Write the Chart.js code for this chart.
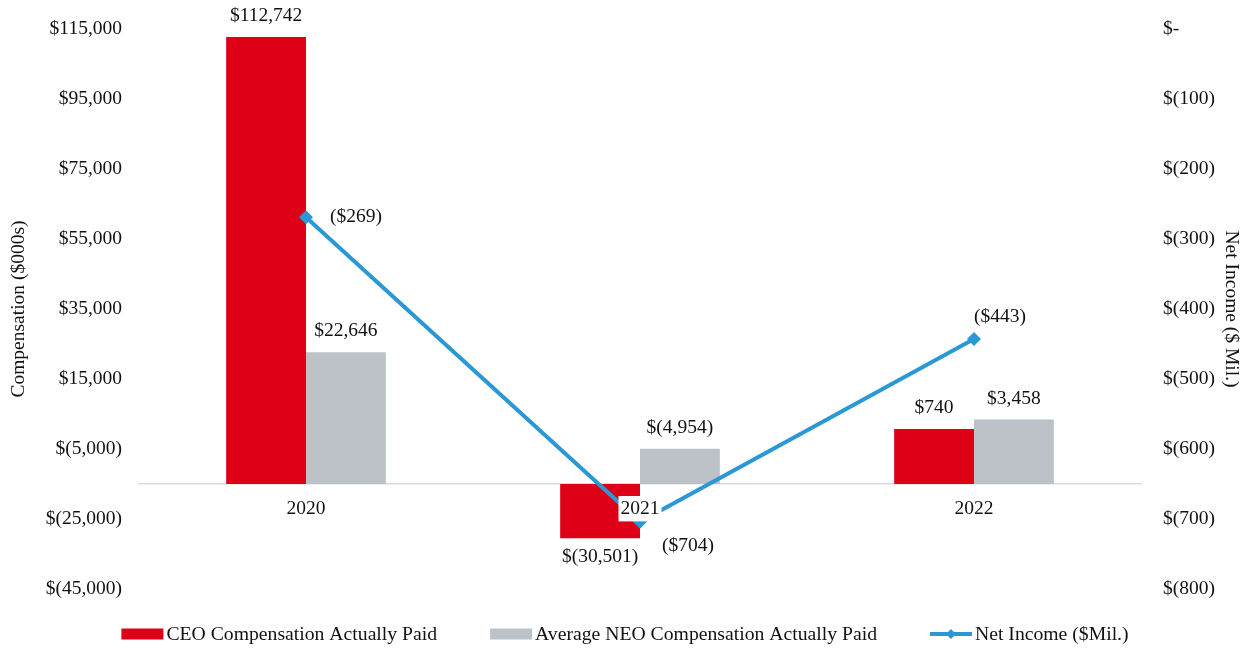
<!DOCTYPE html>
<html>
    <head>
        <title>Pay vs Performance</title>
        <meta charset="UTF-8" />
        <script src="https://cdn.jsdelivr.net/npm/chart.js"></script>
        <style>
            body { margin: 0; background: #fff; }
            #wrap { width: 1250px; height: 648px; position: relative; }
        </style>
    </head>
    <body>
        <div id="wrap"><canvas id="myChart"></canvas></div>
        <script>
            // データ
            const years = ['2020', '2021', '2022'];
            const ceoPaid = [112742, -30501, 740];
            const neoPaid = [22646, -4954, 3458];
            const netIncome = [-269, -704, -443];
            // 横軸が交差する値 (棒の基点)
            const barBase = -15000;

            const RED = '#DE0016';
            const GREY = '#BCC2C7';
            const BLUE = '#2B98D6';
            const FONT = "'Liberation Serif', 'Times New Roman', serif";

            function money(v) {
                const s = Math.abs(v).toLocaleString('en-US');
                return v < 0 ? '$(' + s + ')' : '$' + s;
            }
            function moneyMil(v) {
                if (v === 0) return '$-';
                return money(v);
            }

            // 折れ線ラベルの置き場所
            const lineLabelPos = [
                { dx: 24, dy: 0 },
                { dx: 22, dy: 24 },
                { dx: 0, dy: -22 }
            ];

            Chart.defaults.font.family = FONT;
            Chart.defaults.font.size = 19.5;
            Chart.defaults.color = '#111';

            const valueLabels = {
                id: 'valueLabels',
                afterDatasetsDraw(chart) {
                    const ctx = chart.ctx;
                    ctx.save();
                    ctx.font = '19.5px ' + FONT;
                    ctx.fillStyle = '#111';
                    chart.data.datasets.forEach((ds, di) => {
                        const meta = chart.getDatasetMeta(di);
                        meta.data.forEach((el, i) => {
                            const v = ds.data[i];
                            if (ds.type === 'line') {
                                const p = lineLabelPos[i];
                                ctx.textAlign = 'left';
                                ctx.textBaseline = 'middle';
                                ctx.fillText('($' + Math.abs(v) + ')', el.x + p.dx, el.y + p.dy);
                            } else {
                                ctx.textAlign = 'center';
                                ctx.textBaseline = 'middle';
                                const up = el.y < el.base;
                                ctx.fillText(money(v), el.x, up ? el.y - 21 : el.y + 19);
                            }
                        });
                    });
                    ctx.restore();
                }
            };

            // 凡例 (下部)
            const bottomLegend = {
                id: 'bottomLegend',
                afterDraw(chart) {
                    const ctx = chart.ctx;
                    const items = chart.data.datasets.map(ds => ({ text: ds.label, color: ds.borderColor, line: ds.type === 'line' }));
                    const markW = 42, markGap = 3, itemGap = 53;
                    ctx.save();
                    ctx.font = '19.7px ' + FONT;
                    let total = 0;
                    items.forEach((it, i) => {
                        it.w = ctx.measureText(it.text).width;
                        total += markW + markGap + it.w + (i ? itemGap : 0);
                    });
                    let x = (chart.width - total) / 2;
                    const y = 634;
                    items.forEach((it) => {
                        if (it.line) {
                            ctx.strokeStyle = it.color;
                            ctx.lineWidth = 4;
                            ctx.beginPath();
                            ctx.moveTo(x, y);
                            ctx.lineTo(x + markW, y);
                            ctx.stroke();
                            ctx.fillStyle = it.color;
                            ctx.beginPath();
                            ctx.moveTo(x + markW / 2, y - 5);
                            ctx.lineTo(x + markW / 2 + 5, y);
                            ctx.lineTo(x + markW / 2, y + 5);
                            ctx.lineTo(x + markW / 2 - 5, y);
                            ctx.closePath();
                            ctx.fill();
                        } else {
                            ctx.fillStyle = it.color;
                            ctx.fillRect(x, y - 5.5, markW, 11);
                        }
                        ctx.fillStyle = '#111';
                        ctx.textAlign = 'left';
                        ctx.textBaseline = 'middle';
                        ctx.fillText(it.text, x + markW + markGap, y + 1);
                        x += markW + markGap + it.w + itemGap;
                    });
                    ctx.restore();
                }
            };

            const ctx = document.getElementById('myChart').getContext('2d');
            const myChart = new Chart(ctx, {
                data: {
                    labels: years,
                    datasets: [{
                        type: 'bar',
                        label: 'CEO Compensation Actually Paid',
                        data: ceoPaid,
                        base: barBase,
                        backgroundColor: RED,
                        borderColor: RED,
                        yAxisID: 'y',
                        order: 1
                    }, {
                        type: 'bar',
                        label: 'Average NEO Compensation Actually Paid',
                        data: neoPaid,
                        base: barBase,
                        backgroundColor: GREY,
                        borderColor: GREY,
                        yAxisID: 'y',
                        order: 1
                    }, {
                        type: 'line',
                        label: 'Net Income ($Mil.)',
                        data: netIncome,
                        borderColor: BLUE,
                        backgroundColor: BLUE,
                        borderWidth: 4,
                        pointStyle: 'rectRot',
                        pointRadius: 7,
                        pointBorderWidth: 0,
                        tension: 0,
                        yAxisID: 'y1',
                        order: 0
                    }]
                },
                options: {
                    responsive: true,
                    maintainAspectRatio: false,
                    animation: false,
                    layout: { padding: { top: 29, bottom: 59, left: 0, right: 0 } },
                    datasets: {
                        bar: { categoryPercentage: 0.478, barPercentage: 1.0 }
                    },
                    plugins: {
                        legend: { display: false },
                        tooltip: { enabled: false }
                    },
                    scales: {
                        x: {
                            type: 'category',
                            position: { y: barBase },
                            grid: { display: false, drawTicks: false },
                            border: { display: true, color: '#D9D9D9', width: 1.5 },
                            ticks: {
                                z: 1,
                                padding: 13,
                                showLabelBackdrop: true,
                                backdropColor: '#fff',
                                backdropPadding: { top: 1, bottom: 1, left: 2, right: 2 }
                            }
                        },
                        y: {
                            position: 'left',
                            min: -45000,
                            max: 115000,
                            grid: { display: false, drawTicks: false },
                            border: { display: false },
                            ticks: { stepSize: 20000, padding: 17, callback: v => money(v) },
                            title: { display: true, text: 'Compensation ($000s)', padding: { top: 7, bottom: 0 } },
                            afterFit(scale) {
                                scale.width = 139;
                                scale.paddingTop = 0;
                                scale.paddingBottom = 0;
                            }
                        },
                        y1: {
                            position: 'right',
                            min: -800,
                            max: 0,
                            grid: { display: false, drawTicks: false },
                            border: { display: false },
                            ticks: { stepSize: 100, padding: 22, callback: v => moneyMil(v) },
                            title: { display: true, text: 'Net Income ($ Mil.)', padding: { top: 7, bottom: 0 } },
                            afterFit(scale) {
                                scale.width = 109;
                                scale.paddingTop = 0;
                                scale.paddingBottom = 0;
                            }
                        }
                    }
                },
                plugins: [valueLabels, bottomLegend]
            });
        </script>
    </body>
</html>
